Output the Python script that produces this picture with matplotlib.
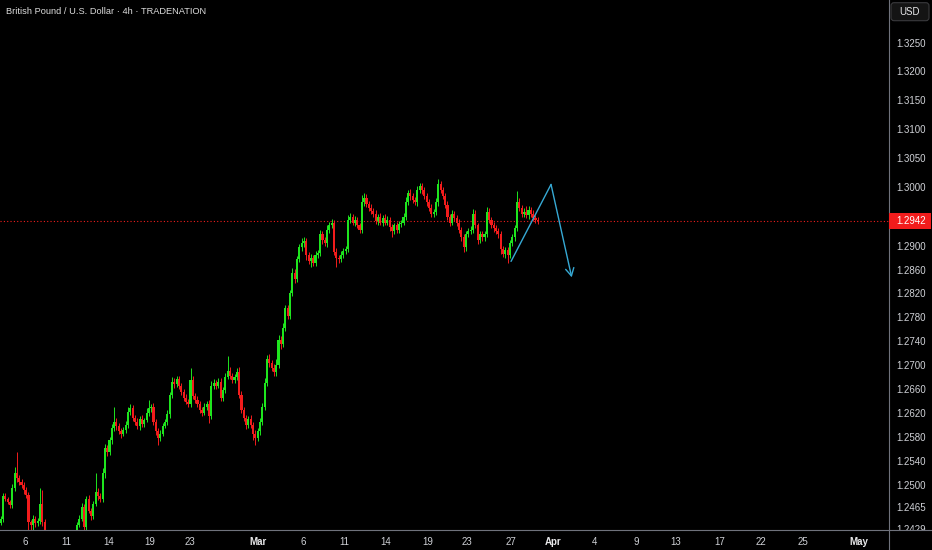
import numpy as np
import matplotlib
matplotlib.use("Agg")
import matplotlib.pyplot as plt
from matplotlib.patches import Rectangle, FancyBboxPatch
from matplotlib.lines import Line2D
from matplotlib.ticker import NullLocator

plt.rcParams['font.family'] = ['Liberation Sans', 'DejaVu Sans']

# ---------------- data ----------------
title = "British Pound / U.S. Dollar · 4h · TRADENATION"
currency = "USD"

first_open = 1.2432
first_day = -2          # trading-day index of the first bar's day (Feb 6 = 0)
bars_per_day = 6

closes = [
    # Feb 4
    1.2438, 1.2445, 1.2482, 1.2478, 1.2472, 1.2468,
    # Feb 5
    1.2495, 1.2520, 1.2512, 1.2506, 1.2500, 1.2492,
    # Feb 6
    1.2485, 1.2440, 1.2435, 1.2445, 1.2438, 1.2442,
    # Feb 7
    1.2470, 1.2440, 1.2415, 1.2405, 1.2398, 1.2405,
    # Feb 10
    1.2395, 1.2380, 1.2370, 1.2365, 1.2375, 1.2385,
    # Feb 11
    1.2390, 1.2400, 1.2410, 1.2415, 1.2435, 1.2445,
    # Feb 12
    1.2465, 1.2432, 1.2478, 1.2458, 1.2450, 1.2470,
    # Feb 13
    1.2490, 1.2482, 1.2478, 1.2520, 1.2562, 1.2555,
    # Feb 14
    1.2575, 1.2595, 1.2605, 1.2598, 1.2590, 1.2585,
    # Feb 17
    1.2592, 1.2600, 1.2622, 1.2628, 1.2612, 1.2605,
    # Feb 18
    1.2598, 1.2610, 1.2602, 1.2608, 1.2620, 1.2628,
    # Feb 19
    1.2630, 1.2605, 1.2590, 1.2578, 1.2585, 1.2598,
    # Feb 20
    1.2605, 1.2618, 1.2650, 1.2672, 1.2668, 1.2676,
    # Feb 21
    1.2665, 1.2655, 1.2645, 1.2638, 1.2635, 1.2675,
    # Feb 24
    1.2648, 1.2642, 1.2635, 1.2625, 1.2620, 1.2630,
    # Feb 25
    1.2635, 1.2615, 1.2665, 1.2670, 1.2665, 1.2672,
    # Feb 26
    1.2645, 1.2658, 1.2680, 1.2690, 1.2682, 1.2675,
    # Feb 27
    1.2680, 1.2688, 1.2650, 1.2625, 1.2612, 1.2600,
    # Feb 28
    1.2610, 1.2600, 1.2585, 1.2578, 1.2590, 1.2605,
    # Mar 3
    1.2630, 1.2670, 1.2710, 1.2703, 1.2695, 1.2688,
    # Mar 4
    1.2700, 1.2742, 1.2735, 1.2762, 1.2795, 1.2782,
    # Mar 5
    1.2820, 1.2855, 1.2845, 1.2878, 1.2898, 1.2905,
    # Mar 6
    1.2908, 1.2885, 1.2875, 1.2880, 1.2872, 1.2885,
    # Mar 7
    1.2888, 1.2920, 1.2910, 1.2905, 1.2928, 1.2935,
    # Mar 10
    1.2940, 1.2890, 1.2880, 1.2878, 1.2885, 1.2892,
    # Mar 11
    1.2895, 1.2945, 1.2950, 1.2940, 1.2945, 1.2935,
    # Mar 12
    1.2928, 1.2975, 1.2982, 1.2972, 1.2965, 1.2960,
    # Mar 13
    1.2955, 1.2942, 1.2950, 1.2940, 1.2948, 1.2940,
    # Mar 14
    1.2945, 1.2932, 1.2925, 1.2935, 1.2928, 1.2938,
    # Mar 17
    1.2940, 1.2950, 1.2975, 1.2990, 1.2985, 1.2978,
    # Mar 18
    1.2975, 1.2995, 1.3002, 1.2995, 1.2985, 1.2975,
    # Mar 19
    1.2965, 1.2955, 1.2958, 1.2975, 1.3005, 1.2995,
    # Mar 20
    1.2985, 1.2970, 1.2950, 1.2940, 1.2955, 1.2948,
    # Mar 21
    1.2940, 1.2928, 1.2915, 1.2898, 1.2920, 1.2925,
    # Mar 24
    1.2928, 1.2955, 1.2935, 1.2910, 1.2920, 1.2915,
    # Mar 25
    1.2920, 1.2958, 1.2945, 1.2935, 1.2930, 1.2925,
    # Mar 26
    1.2920, 1.2895, 1.2887, 1.2893, 1.2885, 1.2905,
    # Mar 27
    1.2915, 1.2930, 1.2975, 1.2965, 1.2955, 1.2958,
    # Mar 28
    1.2952, 1.2962, 1.2955, 1.2948, 1.2945, 1.2942,
]

# wick lengths above / below the body, in pips
wick_up = [
    3, 4, 6, 5, 3, 4,
    8, 10, 35, 5, 4, 6,
    5, 4, 3, 6, 5, 4,
    25, 22, 5, 4, 3, 5,
    5, 6, 4, 5, 6, 4,
    4, 6, 5, 4, 5, 6,
    6, 5, 4, 6, 5, 5,
    30, 6, 5, 8, 6, 5,
    5, 6, 25, 6, 5, 4,
    5, 6, 8, 6, 5, 4,
    6, 5, 6, 4, 8, 13,
    5, 6, 4, 5, 6, 5,
    5, 6, 5, 8, 6, 5,
    6, 5, 4, 6, 5, 20,
    6, 5, 6, 5, 4, 6,
    5, 6, 8, 6, 5, 6,
    6, 5, 6, 25, 6, 5,
    5, 6, 8, 6, 5, 4,
    5, 6, 5, 6, 5, 6,
    6, 8, 6, 8, 5, 6,
    10, 8, 6, 8, 6, 5,
    6, 8, 6, 5, 6, 8,
    8, 6, 5, 6, 5, 6,
    5, 8, 6, 5, 8, 6,
    6, 5, 6, 5, 6, 5,
    5, 8, 6, 5, 6, 5,
    5, 12, 8, 6, 5, 6,
    5, 6, 5, 6, 5, 6,
    6, 5, 6, 5, 6, 5,
    5, 6, 8, 6, 8, 5,
    6, 8, 6, 5, 6, 5,
    5, 6, 5, 6, 10, 6,
    6, 5, 6, 5, 6, 5,
    5, 6, 5, 6, 5, 6,
    6, 8, 6, 5, 6, 5,
    5, 8, 6, 5, 6, 5,
    5, 6, 5, 6, 5, 6,
    6, 5, 18, 6, 5, 6,
    10, 6, 5, 6, 5, 4,
]
wick_dn = [
    4, 3, 5, 4, 3, 5,
    5, 4, 6, 5, 4, 6,
    6, 40, 20, 8, 6, 5,
    5, 6, 8, 6, 5, 6,
    6, 5, 7, 5, 4, 6,
    5, 4, 6, 5, 4, 3,
    4, 10, 5, 4, 6, 5,
    4, 6, 5, 5, 8, 6,
    5, 6, 5, 6, 5, 6,
    4, 5, 6, 5, 6, 5,
    5, 6, 5, 6, 4, 5,
    6, 5, 6, 11, 5, 4,
    4, 5, 6, 5, 6, 5,
    5, 6, 5, 4, 6, 5,
    5, 6, 5, 6, 5, 4,
    6, 12, 5, 6, 5, 4,
    5, 6, 5, 4, 6, 5,
    6, 5, 6, 5, 6, 7,
    6, 5, 10, 12, 5, 6,
    5, 6, 5, 6, 5, 6,
    6, 5, 8, 6, 5, 6,
    6, 5, 8, 6, 5, 6,
    6, 8, 6, 10, 5, 6,
    6, 5, 6, 5, 6, 5,
    5, 6, 15, 6, 5, 6,
    6, 5, 6, 5, 6, 5,
    6, 5, 6, 5, 6, 5,
    6, 5, 6, 5, 6, 5,
    5, 6, 10, 5, 6, 5,
    6, 5, 6, 5, 6, 5,
    5, 6, 5, 6, 5, 6,
    6, 5, 6, 5, 6, 5,
    5, 6, 5, 6, 5, 6,
    6, 5, 6, 8, 6, 5,
    5, 6, 5, 6, 5, 6,
    6, 5, 6, 5, 6, 5,
    6, 8, 6, 8, 14, 6,
    5, 6, 5, 6, 5, 6,
    5, 6, 5, 6, 5, 4,
]

last_price = 1.2942

price_ticks = [1.3250, 1.3200, 1.3150, 1.3100, 1.3050, 1.3000, 1.2950, 1.2900,
               1.2860, 1.2820, 1.2780, 1.2740, 1.2700, 1.2660, 1.2620, 1.2580,
               1.2540, 1.2500, 1.2465, 1.2429]

date_tick_pos = [0, 3, 6, 9, 11.85, 16.8, 20, 23, 26, 29, 31.85, 35,
                 38, 41, 44, 46.85, 50, 53, 56, 60]
date_tick_labels = ['6', '11', '14', '19', '23', 'Mar', '6', '11', '14', '19',
                    '23', '27', 'Apr', '4', '9', '13', '17', '22', '25', 'May']
month_labels = ['Mar', 'Apr', 'May']

# hand-drawn projection (day index, price)
proj_days = [34.99, 37.87, 39.36]
proj_prices = [1.2874, 1.3005, 1.2847]

# ---------------- style ----------------
W, H = 932, 550
plot_right = 888.7
plot_bottom = 530.3
x_range = (-1.80, 62.18)
y_range = (1.24264, 1.33245)

bg = '#000000'
up_col = '#1ee51e'
dn_col = '#f21c1c'
line_col = '#6f727c'
text_col = '#cfd1d6'
proj_col = '#36a9d4'
label_red = '#f21c1c'

fig = plt.figure(figsize=(W / 100, H / 100), dpi=100, facecolor=bg)
ax = fig.add_axes([0, (H - plot_bottom) / H, plot_right / W, plot_bottom / H])
ax.set_facecolor(bg)

c = np.array(closes)
o = np.concatenate([[first_open], c[:-1]])
hi = np.maximum(o, c) + np.array(wick_up) * 0.0001
lo = np.minimum(o, c) - np.array(wick_dn) * 0.0001
n = len(c)
x = first_day + (np.arange(n) + 0.5) / bars_per_day
cols = [up_col if cc >= oo else dn_col for oo, cc in zip(o, c)]

ax.vlines(x, lo, hi, colors=cols, linewidth=0.7, zorder=2)
ax.bar(x, np.maximum(np.abs(c - o), 0.00005), bottom=np.minimum(o, c),
       width=0.15, color=cols, linewidth=0, zorder=3)

ax.axhline(last_price, color=label_red, lw=0.8, linestyle=(0, (1, 2)), zorder=1)

ax.plot(proj_days[:2], proj_prices[:2], color=proj_col, lw=1.0, zorder=4,
        solid_capstyle='round')
ax.annotate('', xy=(proj_days[2], proj_prices[2]), xytext=(proj_days[1], proj_prices[1]),
            arrowprops=dict(arrowstyle='->,head_length=0.55,head_width=0.3',
                            color=proj_col, lw=1.0, shrinkA=0, shrinkB=0),
            zorder=4)

ax.set_yscale('log')
ax.set_xlim(*x_range)
ax.set_ylim(*y_range)

ax.set_yticks(price_ticks, labels=[f"{p:.4f}" for p in price_ticks])
ax.yaxis.set_minor_locator(NullLocator())
ax.yaxis.tick_right()
ax.tick_params(axis='y', length=0, pad=5.2, labelsize=7, labelcolor=text_col)

ax.set_xticks(date_tick_pos, labels=date_tick_labels)
ax.xaxis.set_minor_locator(NullLocator())
ax.tick_params(axis='x', length=0, pad=4.5, labelsize=7, labelcolor=text_col)
for lab in ax.get_xticklabels():
    if lab.get_text() in month_labels:
        lab.set_fontweight('bold')
        lab.set_color('#e8e8ea')

for s in ax.spines.values():
    s.set_visible(False)

# hide the lower part of the bottom price label (below the time axis line)
fig.add_artist(Rectangle((plot_right / W + 0.001, 0), 1, (H - plot_bottom) / H - 0.001,
                         transform=fig.transFigure, fc=bg, ec='none', zorder=5))

# separator lines
fig.add_artist(Line2D([plot_right / W] * 2, [0, 1], transform=fig.transFigure,
                      color=line_col, lw=0.8, zorder=6))
fig.add_artist(Line2D([0, 1], [(H - plot_bottom) / H] * 2, transform=fig.transFigure,
                      color=line_col, lw=0.8, zorder=6))

# current price label
y_disp = ax.transData.transform((0, last_price))[1]
y_fig = y_disp / H
fig.add_artist(Rectangle(((plot_right + 0.6) / W, y_fig - 8 / H), (W - plot_right - 1.6) / W,
                         16 / H, transform=fig.transFigure, fc=label_red, ec='none', zorder=7))
fig.text(911 / W, y_fig, f"{last_price:.4f}", color='white', fontsize=7,
         ha='center', va='center', zorder=8)

# currency box
fig.add_artist(FancyBboxPatch((891 / 100, (H - 20.7) / 100), 0.38, 0.18,
                              boxstyle='round,pad=0,rounding_size=0.03',
                              transform=fig.dpi_scale_trans, fc='#141414',
                              ec='#3a3a3d', lw=0.8, zorder=7))
fig.text(910 / W, 1 - 11.7 / H, currency, color='#e8e8ea', fontsize=7,
         ha='center', va='center', zorder=8)

# title
fig.text(6 / W, 1 - 12 / H, title, color='#dcdcdc', fontsize=6.7,
         ha='left', va='center', zorder=8)

fig.savefig('out.png', dpi=100, facecolor=bg)
